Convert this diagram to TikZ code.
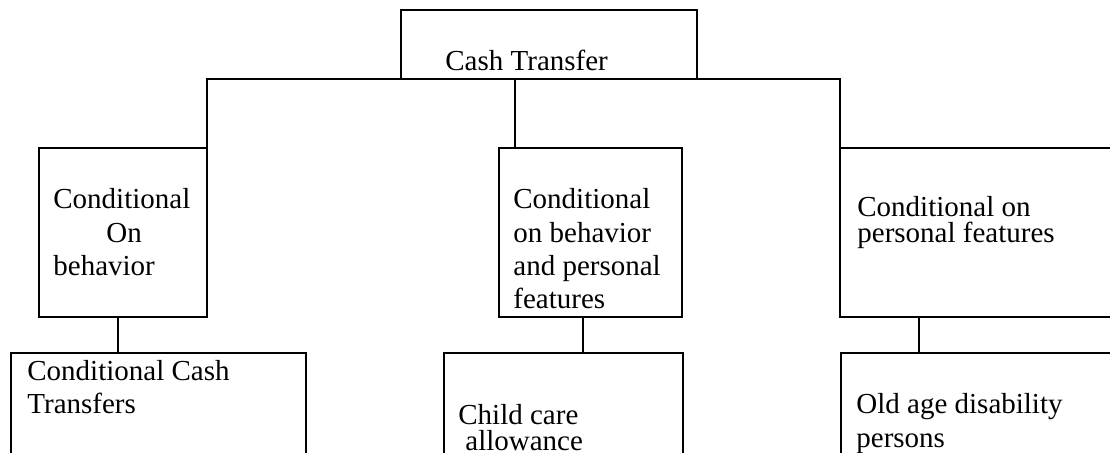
\documentclass[tikz,border=0pt]{standalone}
\usepackage{fontspec}
\setmainfont{Liberation Serif}
\begin{document}
\begin{tikzpicture}[x={(0.5pt,0)},y={(0,-0.5pt)},
  box/.style={draw,line width=1pt,rectangle,inner sep=0pt,outer sep=0pt},
  lbl/.style={anchor=base west,inner sep=0pt,font=\fontsize{14.5}{16}\selectfont},
  conn/.style={line width=1pt}]
\useasboundingbox (0,0) rectangle (1110,452);
\clip (0,0) rectangle (1110,452);
% boxes
\node[box,minimum width=148pt,minimum height=34.5pt] (top) at (549,44.5) {};
\node[box,minimum width=84pt,minimum height=84.5pt] (L1) at (123,232.5) {};
\node[box,minimum width=91.5pt,minimum height=84.5pt] (M1) at (590.5,232.5) {};
\node[box,minimum width=142.5pt,minimum height=84.5pt] (R1) at (982.5,232.5) {};
\node[box,minimum width=147.5pt,minimum height=58.5pt] (L2) at (158.5,411.5) {};
\node[box,minimum width=119.5pt,minimum height=58.5pt] (M2) at (563.5,411.5) {};
\node[box,minimum width=142pt,minimum height=58.5pt] (R2) at (983,411.5) {};
% connectors
\draw[conn] (L1.north east) -- (L1.north east |- top.south) -- (R1.north west |- top.south) -- (R1.north west);
\coordinate (mj) at (515,79);
\draw[conn] (mj) -- (mj |- M1.north);
\coordinate (lj) at (118,317);
\draw[conn] (lj) -- (lj |- L2.north);
\coordinate (mk) at (583,317);
\draw[conn] (mk) -- (mk |- M2.north);
\coordinate (rk) at (919,317);
\draw[conn] (rk) -- (rk |- R2.north);
% texts
\node[lbl] (t0) at (445,70) {Cash Transfer};
\node[lbl] (a1) at (53,208) {Conditional};
\node[lbl] (a2) at (106,242) {On};
\node[lbl] (a3) at (53,275) {behavior};
\node[lbl] (b1) at (513,208) {Conditional};
\node[lbl] (b2) at (513,242) {on behavior};
\node[lbl] (b3) at (513,275) {and personal};
\node[lbl] (b4) at (513,308) {features};
\node[lbl] (c1) at (857,216) {Conditional on};
\node[lbl] (c2) at (857,242) {personal features};
\node[lbl] (d1) at (27,380) {Conditional Cash};
\node[lbl] (d2) at (27,413) {Transfers};
\node[lbl] (e1) at (458,424) {Child care};
\node[lbl] (e2) at (465,450) {allowance};
\node[lbl] (f1) at (856,413) {Old age disability};
\node[lbl] (f2) at (856,447) {persons};
\end{tikzpicture}
\end{document}
